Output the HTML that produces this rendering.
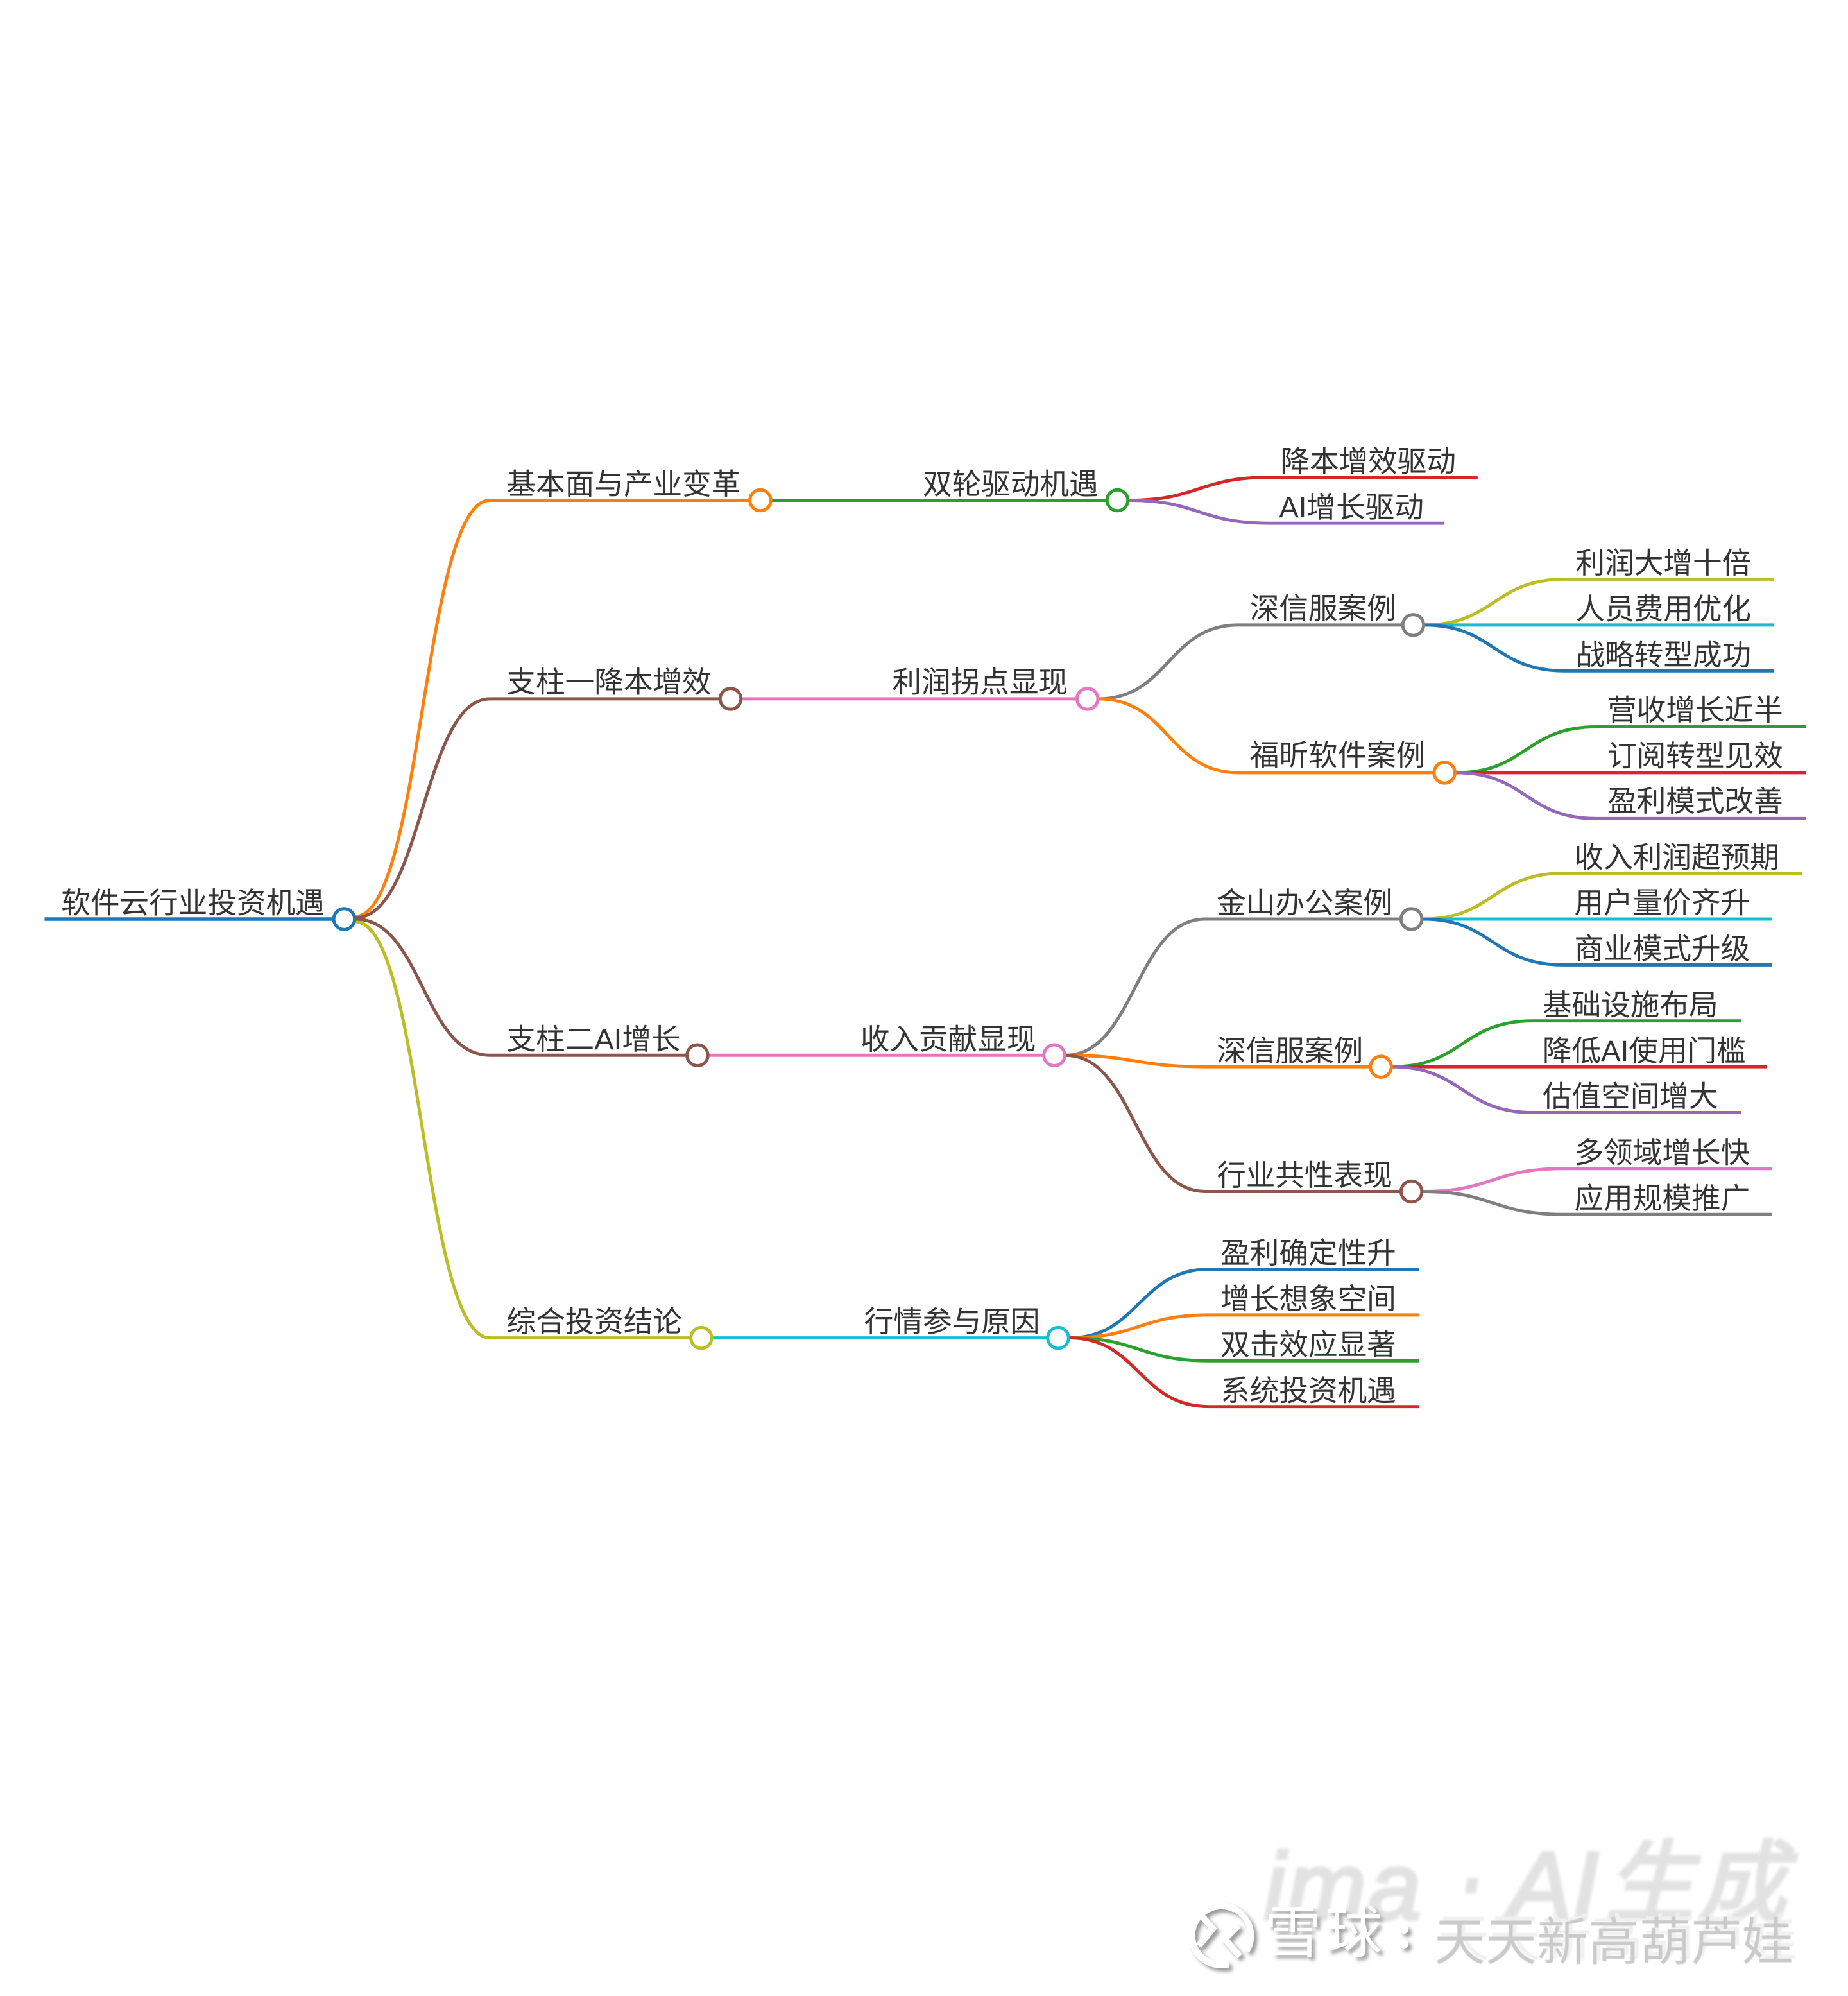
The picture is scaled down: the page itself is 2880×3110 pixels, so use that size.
<!DOCTYPE html>
<html lang="zh"><head><meta charset="utf-8"><title>软件云行业投资机遇</title>
<style>
html,body{margin:0;padding:0;background:#fff}
body{width:2880px;height:3110px;overflow:hidden;position:relative}
svg{position:absolute;left:0;top:0}
text{font-family:"Liberation Sans","Noto Sans CJK SC",sans-serif}
.t{font-size:23px;fill:#333;font-weight:400}
.m path,.m line{fill:none;stroke-width:2.5;stroke-linecap:butt}
.m circle{fill:#fff;stroke-width:2.5}
.cjk{font-family:"Noto Sans CJK SC",sans-serif}
</style></head><body>
<!-- watermark -->
<svg width="2880" height="3110" viewBox="0 0 2880 3110" xmlns="http://www.w3.org/2000/svg">
<defs><filter id="b" x="-10%" y="-10%" width="120%" height="120%"><feGaussianBlur stdDeviation="2.5"/></filter></defs>
<g filter="url(#b)" fill="#e2e2e2" stroke="#e2e2e2" stroke-width="5">
<text x="1970" y="2990" font-size="148" font-style="italic" letter-spacing="3">ima</text>
<text x="2350" y="2990" font-size="150" font-style="italic">AI</text>
<text class="cjk" x="2502" y="2982" font-size="138" font-style="italic" letter-spacing="6">生成</text>
<path d="M2287 2926h17l-4 24h-17z" stroke="none"/>
</g>
<g style="filter:blur(1px)" fill="#f0f0f0" font-size="80">
<text class="cjk" x="2241" y="3048">天天新高葫芦娃</text>
</g>
<g style="filter:blur(.6px)" fill="#cacaca">
<text class="cjk" x="2235" y="3054" font-size="80">天天新高葫芦娃</text>
</g>
<g style="filter:drop-shadow(5px 5px 3px #9a9a9a)">
<text class="cjk" x="1971" y="3042" font-size="88" letter-spacing="7" fill="#fff">雪球</text>
<circle cx="2188" cy="3006" r="7" fill="#fff"/><circle cx="2188" cy="3029" r="7" fill="#fff"/>
<path d="M1925 2975A46 46 0 1 0 1915 3060" fill="none" stroke="#fff" stroke-width="11"/>
<path d="M1925 2975A46 46 0 0 1 1943 3040" fill="none" stroke="#fff" stroke-width="9"/>
<path d="M1870 2982L1890 3005L1868 3032M1930 3000L1909 3021L1932 3048" fill="none" stroke="#fff" stroke-width="10"/>
</g>
</svg>
<svg class="m" width="2880" height="3110" viewBox="0 0 1452 1568" xmlns="http://www.w3.org/2000/svg">
<!-- root -->
<line x1="35" y1="722" x2="262" y2="722" stroke="#1f77b4" style="stroke-width:2.8"/>
<!-- branch 1 -->
<path stroke="#ff7f0e" d="M279 720C332 720 332 393 385 393H589"/>
<path stroke="#2ca02c" d="M606 393H870"/>
<path stroke="#d62728" d="M887 393C942 393 942 375 997 375H1161"/>
<path stroke="#9467bd" d="M887 393C942 393 942 411 997 411H1135"/>
<!-- branch 2 -->
<path stroke="#8c564b" d="M279 721C332 721 332 549 385 549H566"/>
<path stroke="#e377c2" d="M583 549H846"/>
<path stroke="#7f7f7f" d="M863 549C918 549 918 491 973 491H1102"/>
<path stroke="#ff7f0e" d="M863 549C918 549 918 607 973 607H1127"/>
<path stroke="#bcbd22" d="M1119 491C1174 491 1174 455 1229 455H1394"/>
<path stroke="#17becf" d="M1119 491H1394"/>
<path stroke="#1f77b4" d="M1119 491C1174 491 1174 527 1229 527H1394"/>
<path stroke="#2ca02c" d="M1144 607C1199 607 1199 571 1254 571H1419"/>
<path stroke="#d62728" d="M1144 607H1419"/>
<path stroke="#9467bd" d="M1144 607C1199 607 1199 643 1254 643H1419"/>
<!-- branch 4 -->
<path stroke="#bcbd22" d="M279 724C332 724 332 1051 385 1051H543"/>
<path stroke="#17becf" d="M560 1051H823"/>
<path stroke="#1f77b4" d="M840 1051C895 1051 895 997 950 997H1115"/>
<path stroke="#ff7f0e" d="M840 1051C895 1051 895 1033 950 1033H1115"/>
<path stroke="#2ca02c" d="M840 1051C895 1051 895 1069 950 1069H1115"/>
<path stroke="#d62728" d="M840 1051C895 1051 895 1105 950 1105H1115"/>
<!-- branch 3 -->
<path stroke="#8c564b" d="M279 722C332 722 332 829 385 829H540"/>
<path stroke="#e377c2" d="M557 829H820"/>
<path stroke="#7f7f7f" d="M837 829C892 829 892 722 947 722H1101"/>
<path stroke="#ff7f0e" d="M837 829C892 829 892 838 947 838H1077"/>
<path stroke="#8c564b" d="M837 829C892 829 892 936 947 936H1101"/>
<path stroke="#bcbd22" d="M1118 722C1173 722 1173 686 1228 686H1416"/>
<path stroke="#17becf" d="M1118 722H1392"/>
<path stroke="#1f77b4" d="M1118 722C1173 722 1173 758 1228 758H1392"/>
<path stroke="#2ca02c" d="M1094 838C1149 838 1149 802 1204 802H1368"/>
<path stroke="#d62728" d="M1094 838H1388"/>
<path stroke="#9467bd" d="M1094 838C1149 838 1149 874 1204 874H1368"/>
<path stroke="#e377c2" d="M1118 936C1173 936 1173 918 1228 918H1392"/>
<path stroke="#7f7f7f" d="M1118 936C1173 936 1173 954 1228 954H1392"/>
<!-- circles -->
<circle cx="270.4" cy="722" r="8.2" stroke="#1f77b4"/>
<circle cx="597.4" cy="393" r="8.2" stroke="#ff7f0e"/>
<circle cx="878" cy="393" r="8.2" stroke="#2ca02c"/>
<circle cx="574" cy="549" r="8.2" stroke="#8c564b"/>
<circle cx="854.4" cy="549" r="8.2" stroke="#e377c2"/>
<circle cx="1110.4" cy="491" r="8.2" stroke="#7f7f7f"/>
<circle cx="1135" cy="607" r="8.2" stroke="#ff7f0e"/>
<circle cx="548" cy="829" r="8.2" stroke="#8c564b"/>
<circle cx="828.4" cy="829" r="8.2" stroke="#e377c2"/>
<circle cx="1109" cy="722" r="8.2" stroke="#7f7f7f"/>
<circle cx="1085" cy="838" r="8.2" stroke="#ff7f0e"/>
<circle cx="1109" cy="936" r="8.2" stroke="#8c564b"/>
<circle cx="551" cy="1051" r="8.2" stroke="#bcbd22"/>
<circle cx="831.4" cy="1051" r="8.2" stroke="#17becf"/>
<!-- labels -->
<g transform="translate(0,-0.7)">
<text class="t" x="48" y="718">软件云行业投资机遇</text>
<text class="t" x="398" y="389">基本面与产业变革</text>
<text class="t" x="725" y="389">双轮驱动机遇</text>
<text class="t" x="1006" y="371">降本增效驱动</text>
<text class="t" x="1005" y="407">AI增长驱动</text>
<text class="t" x="398" y="544.5">支柱一降本增效</text>
<text class="t" x="701" y="544.5">利润拐点显现</text>
<text class="t" x="982" y="486.5">深信服案例</text>
<text class="t" x="1238" y="451">利润大增十倍</text>
<text class="t" x="1238" y="487">人员费用优化</text>
<text class="t" x="1238" y="523">战略转型成功</text>
<text class="t" x="982" y="602">福昕软件案例</text>
<text class="t" x="1263" y="566.5">营收增长近半</text>
<text class="t" x="1263" y="602.5">订阅转型见效</text>
<text class="t" x="1263" y="638">盈利模式改善</text>
<text class="t" x="398" y="825">支柱二AI增长</text>
<text class="t" x="676" y="825">收入贡献显现</text>
<text class="t" x="956" y="718">金山办公案例</text>
<text class="t" x="1237" y="682">收入利润超预期</text>
<text class="t" x="1237" y="718">用户量价齐升</text>
<text class="t" x="1237" y="754">商业模式升级</text>
<text class="t" x="956" y="834">深信服案例</text>
<text class="t" x="1212" y="798">基础设施布局</text>
<text class="t" x="1212" y="834">降低AI使用门槛</text>
<text class="t" x="1212" y="870">估值空间增大</text>
<text class="t" x="956" y="932">行业共性表现</text>
<text class="t" x="1237" y="914">多领域增长快</text>
<text class="t" x="1237" y="950">应用规模推广</text>
<text class="t" x="398" y="1047">综合投资结论</text>
<text class="t" x="679" y="1047">行情参与原因</text>
<text class="t" x="959" y="993">盈利确定性升</text>
<text class="t" x="959" y="1029">增长想象空间</text>
<text class="t" x="959" y="1065">双击效应显著</text>
<text class="t" x="959" y="1101">系统投资机遇</text>
</g>
</svg>
</body></html>
